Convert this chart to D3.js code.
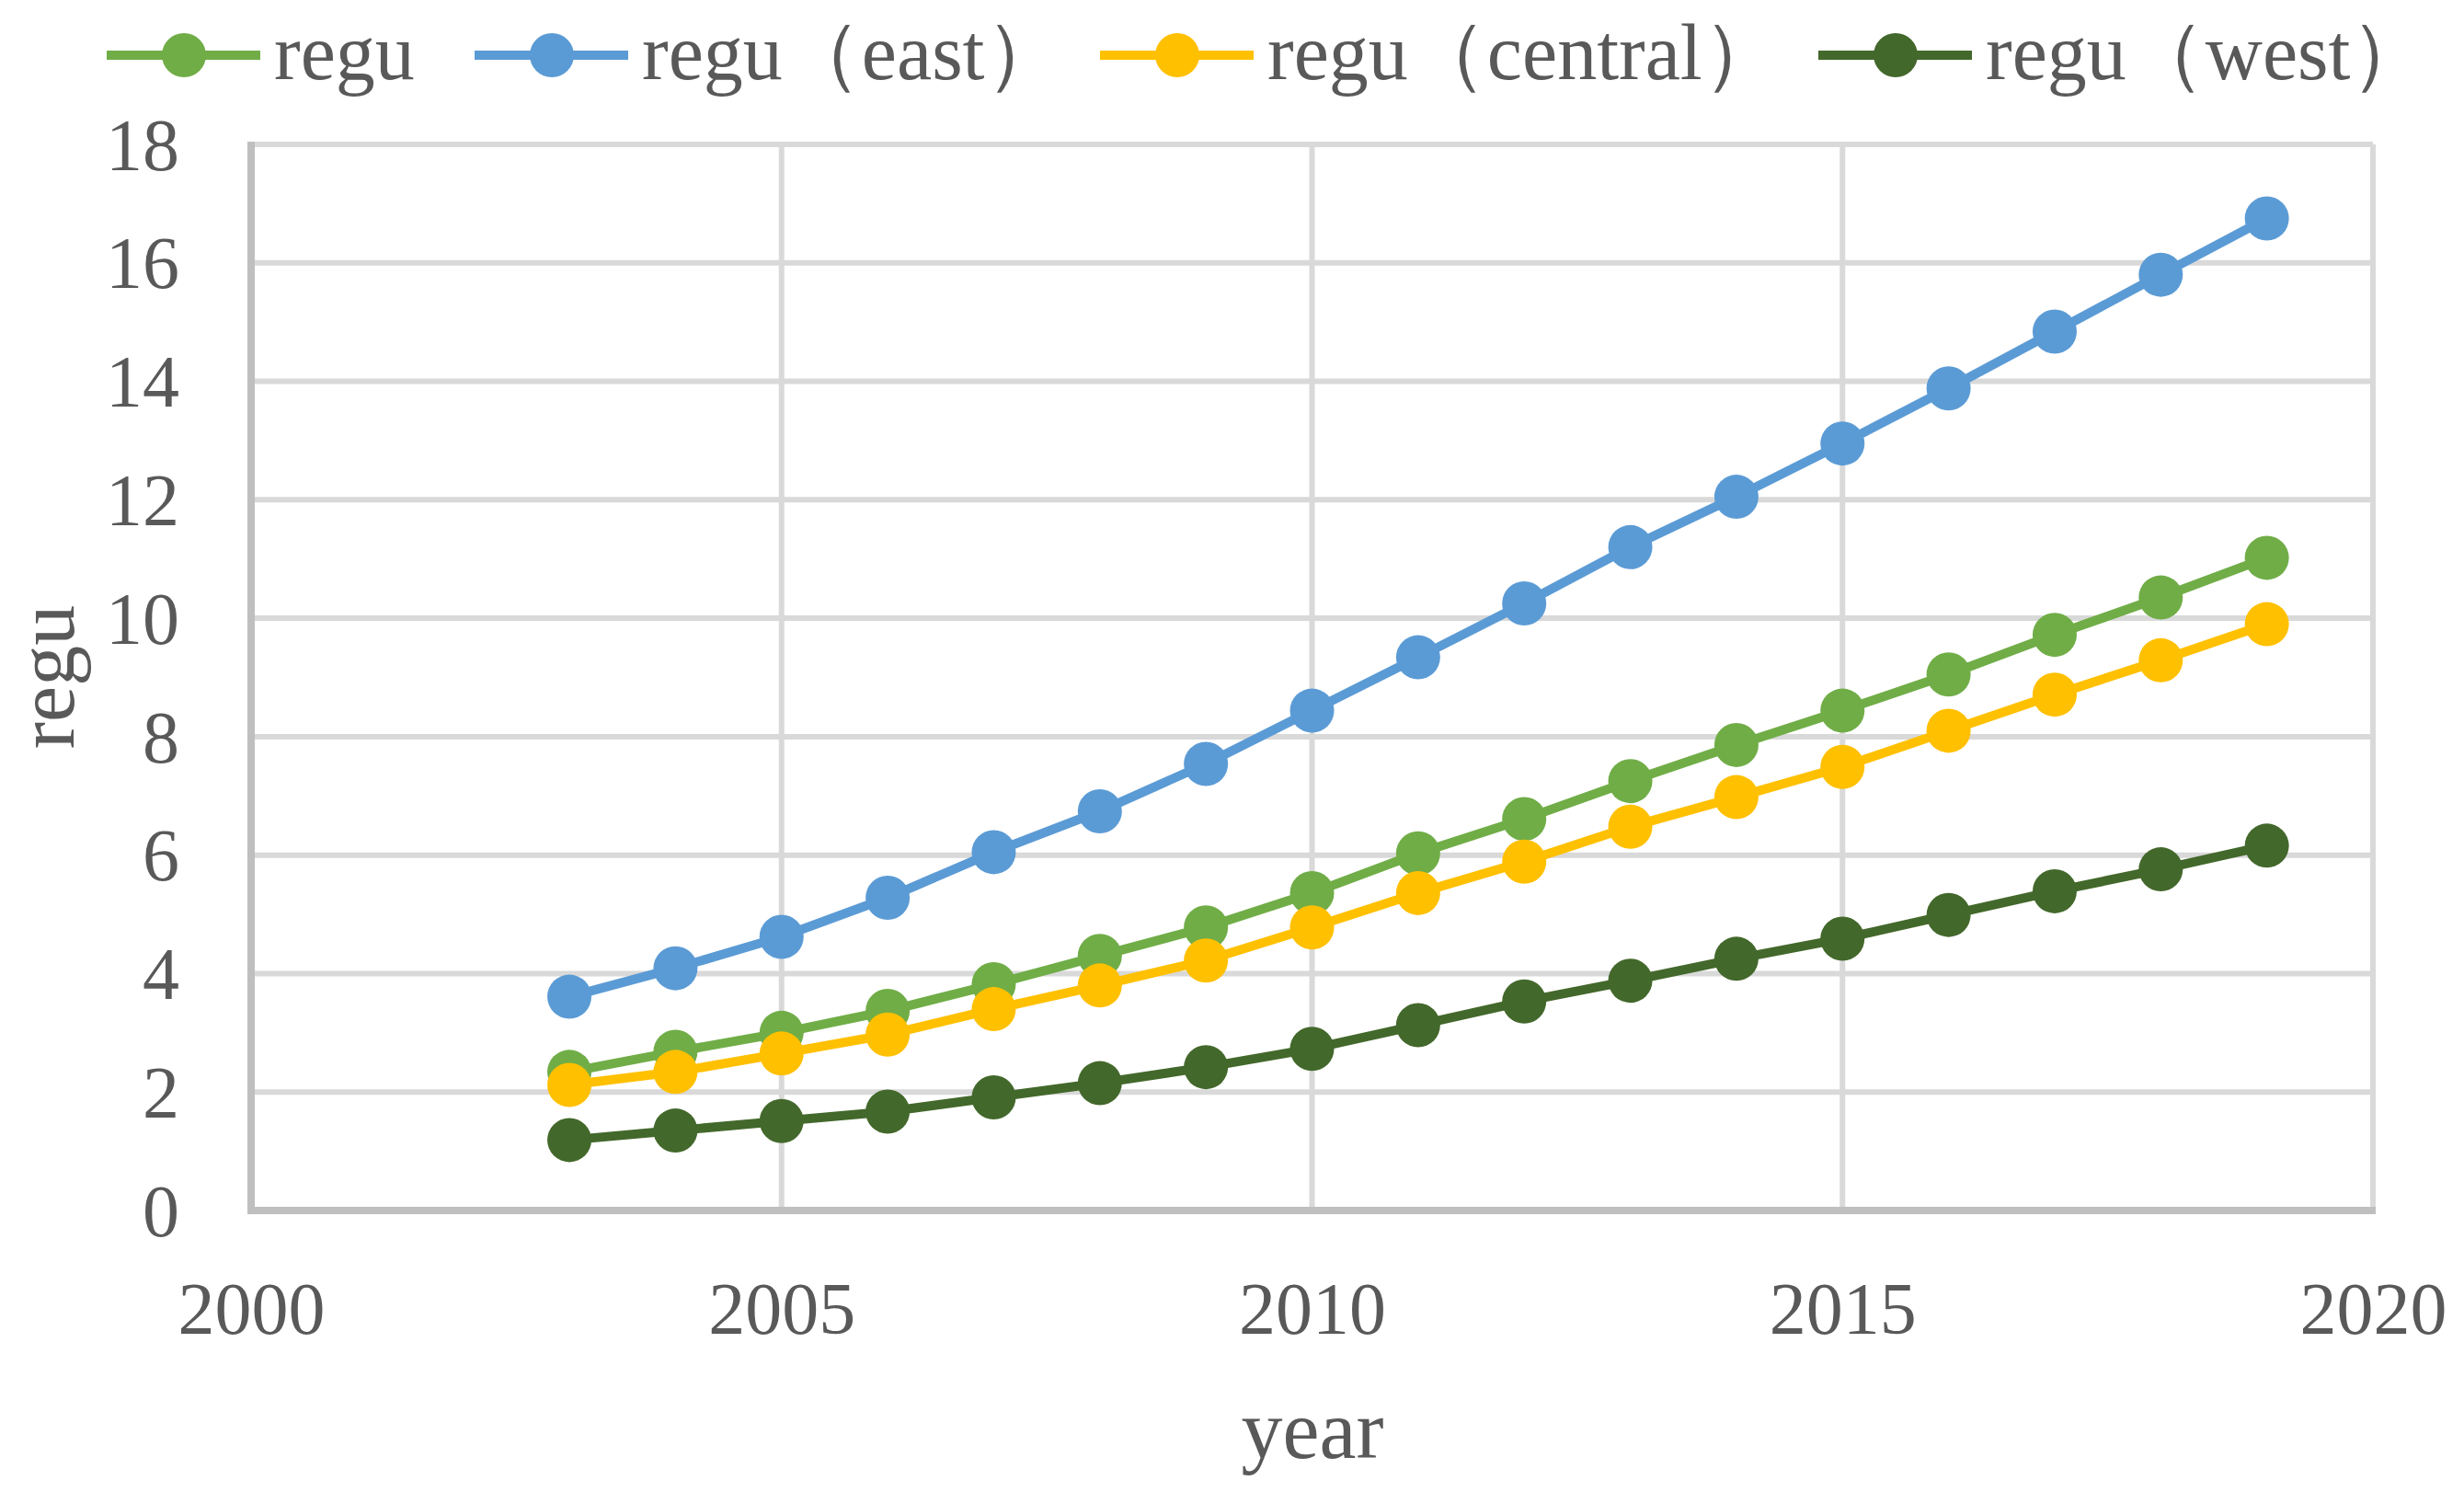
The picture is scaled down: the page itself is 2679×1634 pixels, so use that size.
<!DOCTYPE html>
<html>
<head>
<meta charset="utf-8">
<script src="https://cdn.jsdelivr.net/npm/d3@7"></script>
<style>
  html, body { margin: 0; padding: 0; background: #fff; }
  svg { display: block; }
  text { font-family: "Liberation Serif", "DejaVu Serif", serif; fill: #595959; }
</style>
</head>
<body>
<div id="chart"></div>
<script>
const years = [2003, 2004, 2005, 2006, 2007, 2008, 2009, 2010, 2011, 2012, 2013, 2014, 2015, 2016, 2017, 2018, 2019];
const reguAll = [2.34, 2.68, 3.0, 3.37, 3.82, 4.3, 4.78, 5.36, 6.03, 6.61, 7.25, 7.86, 8.44, 9.05, 9.72, 10.35, 11.02];
const reguEast = [3.61, 4.09, 4.62, 5.28, 6.05, 6.74, 7.54, 8.44, 9.34, 10.25, 11.2, 12.05, 12.95, 13.88, 14.84, 15.8, 16.75];
const reguCentral = [2.12, 2.34, 2.65, 2.97, 3.4, 3.8, 4.22, 4.78, 5.36, 5.89, 6.48, 6.98, 7.49, 8.1, 8.71, 9.29, 9.9];
const reguWest = [1.19, 1.35, 1.51, 1.67, 1.91, 2.15, 2.42, 2.73, 3.13, 3.53, 3.88, 4.25, 4.59, 4.99, 5.39, 5.76, 6.16];
const seriesNames = ["regu", "regu（east）", "regu（central）", "regu（west）"];
const colors = ["#70ad47", "#5b9bd5", "#ffc000", "#43682b"];
const xTicks = [2000, 2005, 2010, 2015, 2020];
const yTicks = [0, 2, 4, 6, 8, 10, 12, 14, 16, 18];

const width = 2679;
const height = 1634;

const svg = d3.select("#chart")
  .append("svg")
  .attr("width", width)
  .attr("height", height);

const x = d3.scaleLinear().domain([2000, 2020]).range([273, 2580]);
const y = d3.scaleLinear().domain([0, 18]).range([1316, 157]);

// Grid
svg.append("g")
  .selectAll("line")
  .data(yTicks.slice(1))
  .enter()
  .append("line")
  .attr("x1", x(2000)).attr("x2", x(2020))
  .attr("y1", d => y(d)).attr("y2", d => y(d))
  .attr("stroke", "#d9d9d9")
  .attr("stroke-width", 6);

svg.append("g")
  .selectAll("line")
  .data(xTicks.slice(1))
  .enter()
  .append("line")
  .attr("x1", d => x(d)).attr("x2", d => x(d))
  .attr("y1", y(0)).attr("y2", y(18))
  .attr("stroke", "#d9d9d9")
  .attr("stroke-width", 6);

// Axis lines
svg.append("line")
  .attr("x1", x(2000)).attr("x2", x(2000))
  .attr("y1", y(0) + 4).attr("y2", y(18) - 3)
  .attr("stroke", "#bfbfbf")
  .attr("stroke-width", 8);
svg.append("line")
  .attr("x1", x(2000) - 4).attr("x2", x(2020) + 3)
  .attr("y1", y(0)).attr("y2", y(0))
  .attr("stroke", "#bfbfbf")
  .attr("stroke-width", 8);

// Tick labels
const yAxis = svg.append("g")
  .attr("transform", `translate(${x(2000) - 78},0)`)
  .call(d3.axisLeft(y).tickValues(yTicks).tickSize(0).tickPadding(0));
yAxis.select(".domain").remove();
yAxis.selectAll("text")
  .attr("font-size", 80)
  .attr("font-family", "Liberation Serif")
  .attr("fill", "#595959")
  .attr("dy", "0.34em");

const xAxis = svg.append("g")
  .attr("transform", `translate(0,${y(0)})`)
  .call(d3.axisBottom(x).tickValues(xTicks).tickFormat(d3.format("d")).tickSize(0).tickPadding(0));
xAxis.select(".domain").remove();
xAxis.selectAll("text")
  .attr("font-size", 80)
  .attr("font-family", "Liberation Serif")
  .attr("fill", "#595959")
  .attr("dy", null)
  .attr("y", 134);

// Axis titles
svg.append("text")
  .attr("x", 1427)
  .attr("y", 1585)
  .attr("text-anchor", "middle")
  .attr("font-size", 90)
  .text("year");

svg.append("text")
  .attr("transform", "translate(80,736) rotate(-90)")
  .attr("text-anchor", "middle")
  .attr("font-size", 88)
  .text("regu");

// Lines and markers
const allSeries = [reguAll, reguEast, reguCentral, reguWest];
const line = d3.line()
  .x((d, i) => x(years[i]))
  .y(d => y(d));

// draw order: east, regu, central, west (west on top)
const order = [1, 0, 2, 3];
order.forEach(k => {
  const g = svg.append("g");
  g.append("path")
    .datum(allSeries[k])
    .attr("fill", "none")
    .attr("stroke", colors[k])
    .attr("stroke-width", 10)
    .attr("d", line);
  g.selectAll("circle")
    .data(allSeries[k])
    .enter()
    .append("circle")
    .attr("cx", (d, i) => x(years[i]))
    .attr("cy", d => y(d))
    .attr("r", 24)
    .attr("fill", colors[k]);
});

// Legend
const legendX = [116, 516, 1196, 1977];
const legend = svg.append("g");
seriesNames.forEach((name, k) => {
  const lg = legend.append("g").attr("transform", `translate(${legendX[k]},60)`);
  lg.append("line")
    .attr("x1", 0).attr("x2", 167)
    .attr("stroke", colors[k])
    .attr("stroke-width", 10);
  lg.append("circle")
    .attr("cx", 84)
    .attr("r", 24)
    .attr("fill", colors[k]);
  lg.append("text")
    .attr("x", 182)
    .attr("dy", "0.3em")
    .attr("font-size", 86)
    .text(name);
});
</script>
</body>
</html>
